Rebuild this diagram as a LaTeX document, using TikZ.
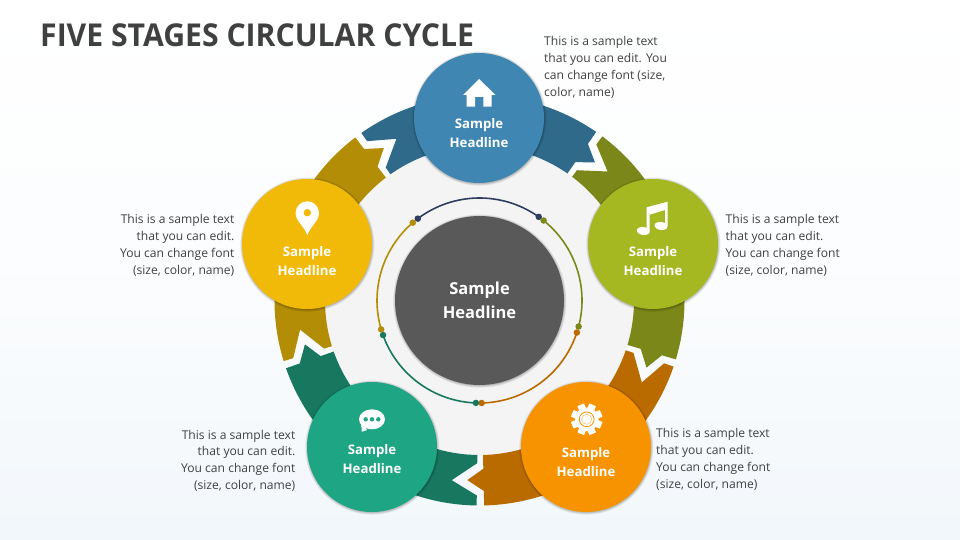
\documentclass[tikz,border=0pt]{standalone}
\usepackage{fontspec}
\setmainfont{Open Sans}
\usetikzlibrary{calc}
\definecolor{bgtop}{HTML}{FFFFFF}
\definecolor{bgbot}{HTML}{F2F7FB}
\definecolor{discgray}{HTML}{F4F4F4}
\definecolor{bluel}{HTML}{3F87B2}
\definecolor{blued}{HTML}{2F6A8A}
\definecolor{olivel}{HTML}{A6B821}
\definecolor{olived}{HTML}{7C871A}
\definecolor{orangel}{HTML}{F89300}
\definecolor{oranged}{HTML}{B96B00}
\definecolor{teall}{HTML}{1EA583}
\definecolor{teald}{HTML}{17785F}
\definecolor{yellowl}{HTML}{F1BA09}
\definecolor{yellowd}{HTML}{B28D05}
\definecolor{navy}{HTML}{2F3E5E}
\definecolor{centre}{HTML}{595959}
\definecolor{bodytxt}{HTML}{404040}
\newcommand{\softshade}[3]{%
  \foreach \k in {0,1,...,6}{%
    \fill[black,opacity=0.045] (#1,#2) ++(0.3,0.6) circle[radius={#3+2.2-\k*0.45}];}}
\tikzset{
  stage/.style={circle,inner sep=0pt,minimum size=130pt},
  headline/.style={text=white,align=center,font=\fontsize{13.2}{19}\selectfont\bfseries},
  bodytext/.style={text=bodytxt,font=\fontsize{12.1}{16.8}\selectfont,inner sep=0pt},
  icon/.style={fill=white,draw=none},
  dot/.style={circle,inner sep=0pt,minimum size=6.5pt},
  thinarc/.style={line width=1.6pt}
}
\begin{document}
\begin{tikzpicture}[x=1pt,y=-1pt]
\useasboundingbox (0,0) rectangle (960,540);
\shade[top color=bgtop,bottom color=bgbot,middle color=bgtop!70!bgbot] (0,0) rectangle (960,540);
\node[anchor=west,inner sep=0pt,text=bodytxt,xscale=0.958,font=\fontsize{31.5}{36}\selectfont\bfseries] (title) at (40,35) {FIVE STAGES CIRCULAR CYCLE};
% ring
\begin{scope}[shift={(479.5,300.5)},y=1pt]
  \fill[discgray] (0,0) circle[radius=155];
  \foreach \a/\c in {55.3/blued,-16.7/olived,-88.7/oranged,-160.7/teald,127.3/yellowd}{
    \pgfmathsetmacro{\tl}{\a+69.9}
    \pgfmathsetmacro{\ap}{\a+61.9}
    \pgfmathsetmacro{\tp}{\a-5.2}
    \fill[\c] (\tl:205) arc[start angle=\tl,end angle=\a,radius=205]
      -- (\a:190.5) -- (\tp:180) -- (\a:168.3) -- (\a:154.5)
      arc[start angle=\a,end angle=\tl,radius=154.5]
      -- (\tl:162.7) -- (\ap:181.8) -- (\tl:195) -- cycle;
  }
  % thin arcs
  \coordinate (a1s) at (127:102.5); \coordinate (a1e) at (54.7:102.5);
  \coordinate (a2s) at (51.3:102.5); \coordinate (a2e) at (-14.7:102.5);
  \coordinate (a3s) at (-18.2:102.5); \coordinate (a3e) at (-88.8:102.5);
  \coordinate (a4s) at (-92:102.5); \coordinate (a4e) at (-160.3:102.5);
  \coordinate (a5s) at (-163.6:102.5); \coordinate (a5e) at (-229.4:102.5);
  \draw[thinarc,navy] (a1s) arc[start angle=127,end angle=54.7,radius=102.5];
  \draw[thinarc,olived] (a2s) arc[start angle=51.3,end angle=-14.7,radius=102.5];
  \draw[thinarc,oranged] (a3s) arc[start angle=-18.2,end angle=-88.8,radius=102.5];
  \draw[thinarc,teald] (a4s) arc[start angle=-92,end angle=-160.3,radius=102.5];
  \draw[thinarc,yellowd] (a5s) arc[start angle=-163.6,end angle=-229.4,radius=102.5];
\end{scope}
\foreach \p/\c in {a1s/navy,a1e/navy,a2s/olived,a2e/olived,a3s/oranged,a3e/oranged,a4s/teald,a4e/teald,a5s/yellowd,a5e/yellowd}{
  \node[dot,fill=\c] at (\p) {};
}
% circles
\softshade{479.5}{300.5}{84.5}
\node[circle,inner sep=0pt,minimum size=169pt,fill=centre,text=white,align=center,font=\fontsize{16.5}{24}\selectfont\bfseries] (hub) at (479.5,300.5) {Sample\\Headline};
\softshade{479}{118}{65}
\softshade{653}{244}{65}
\softshade{586}{447}{65}
\softshade{372}{447}{65}
\softshade{307}{244}{65}
\node[stage,fill=bluel] (s1) at (479,118) {};
\node[stage,fill=olivel] (s2) at (653,244) {};
\node[stage,fill=orangel] (s3) at (586,447) {};
\node[stage,fill=teall] (s4) at (372,447) {};
\node[stage,fill=yellowl] (s5) at (307,244) {};
\node[headline] (h1) at (479,133.2) {Sample\\Headline};
\node[headline] (h2) at (653,261.2) {Sample\\Headline};
\node[headline] (h3) at (586,462.2) {Sample\\Headline};
\node[headline] (h4) at (372,459.2) {Sample\\Headline};
\node[headline] (h5) at (307,261.2) {Sample\\Headline};
% body text
\node[bodytext,anchor=west,align=left] (t1) at (544,67.3) {This is a sample text\\that you can edit. You\\can change font (size,\\color, name)};
\node[bodytext,anchor=west,align=left] (t2) at (725.5,245.2) {This is a sample text\\that you can edit.\\You can change font\\(size, color, name)};
\node[bodytext,anchor=west,align=left] (t3) at (656,459.2) {This is a sample text\\that you can edit.\\You can change font\\(size, color, name)};
\node[bodytext,anchor=east,align=right] (t4) at (295.5,460.7) {This is a sample text\\that you can edit.\\You can change font\\(size, color, name)};
\node[bodytext,anchor=east,align=right] (t5) at (234.5,245.2) {This is a sample text\\that you can edit.\\You can change font\\(size, color, name)};
% house icon
\fill[icon] (479,79) -- (495.5,95) -- (491.7,95) -- (491.7,106.7) -- (483.3,106.7) -- (483.3,97) -- (475,97) -- (475,106.7) -- (466.7,106.7) -- (466.7,95) -- (463,95) -- cycle;
% music icon
\fill[icon] (646.7,207.3) -- (667.7,201.7) -- (667.7,226) -- (665,226) -- (665,210) -- (649.5,214.7) -- (649.5,231) -- (646.7,231) -- cycle;
\fill[icon,rotate around={-8:(643.3,231)}] (643.3,231) ellipse[x radius=6.5,y radius=4];
\fill[icon,rotate around={-8:(661,226)}] (661,226) ellipse[x radius=6.5,y radius=4];
% pin icon
\fill[icon] (307.3,235) .. controls (304,226) and (295.6,221) .. (295.6,213) arc[start angle=180,end angle=0,x radius=11.7,y radius=-11.7] .. controls (319,221) and (310.6,226) .. (307.3,235) -- cycle;
\fill[yellowl] (307.3,212.7) circle[radius=3.7];
% speech icon
\fill[icon] (372,419.3) ellipse[x radius=13,y radius=10];
\fill[icon] (364,426) -- (367,430) .. controls (365,431) and (363,431.5) .. (361.5,431.7) .. controls (362,430) and (362,428) .. (361,425) -- cycle;
\foreach \x in {365.7,372,378.3}{\fill[teall] (\x,419.3) circle[radius=2.2];}
% gear icon
\foreach \r in {0,45,...,315}{
  \fill[icon,rounded corners=0.5pt,rotate around={\r+22.5:(586.7,419.3)}] (583.1,403.6) rectangle (590.3,416);
}
\fill[icon] (586.7,419.3) circle[radius=11.8];
\draw[orangel,line width=0.8pt] (586.7,419.3) circle[radius=7.4];
\draw[orangel!55!white,line width=0.6pt] (586.7,419.3) circle[radius=5];
\end{tikzpicture}
\end{document}
